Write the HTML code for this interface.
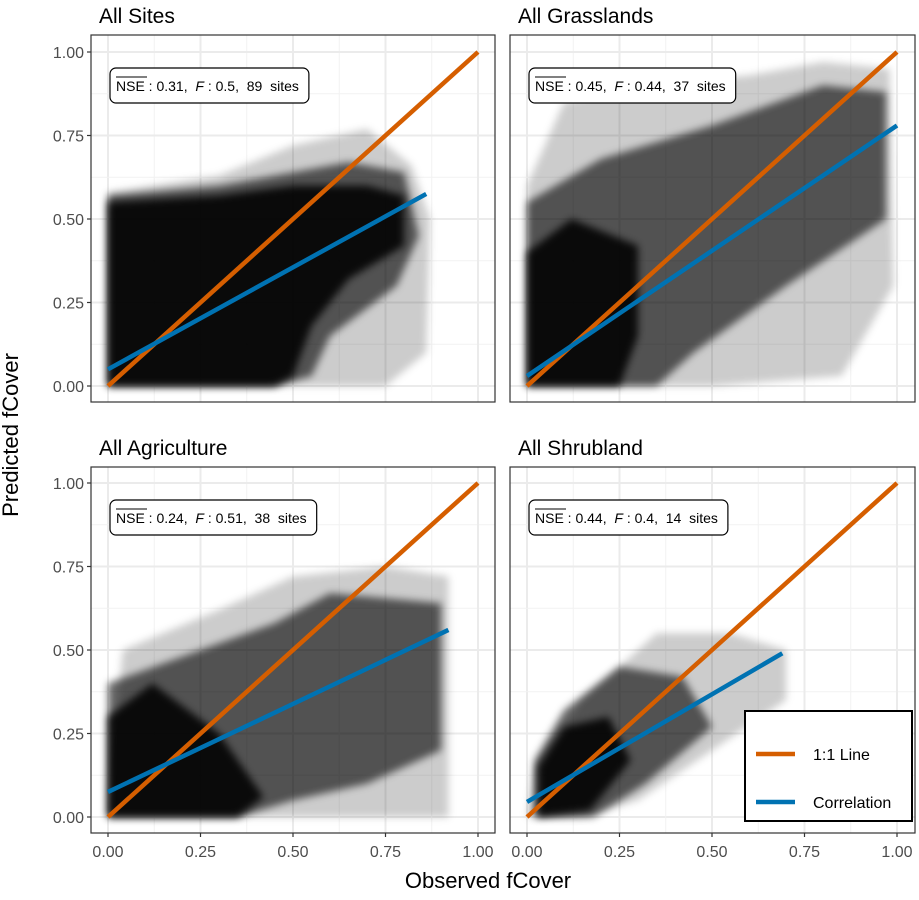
<!DOCTYPE html>
<html><head><meta charset="utf-8"><style>
body{margin:0;background:#fff;font-family:"Liberation Sans",sans-serif}
svg text{font-family:"Liberation Sans",sans-serif}
</style></head><body>
<svg id="c" width="919" height="895" viewBox="0 0 919 895" xmlns="http://www.w3.org/2000/svg">
<defs><filter id="blur" x="-10%" y="-10%" width="120%" height="120%"><feGaussianBlur stdDeviation="4"/></filter>
<filter id="blur2"><feGaussianBlur stdDeviation="2"/></filter></defs>
<text x="12" y="435" transform="rotate(-90 12 435)" text-anchor="middle" dominant-baseline="middle" font-size="22" fill="#000">Predicted fCover</text>
<text x="488" y="888" text-anchor="middle" font-size="22" fill="#000">Observed fCover</text>
</svg>
<script>
const titles=["All Sites","All Grasslands","All Agriculture","All Shrubland"];
const nseVals=["0.31","0.45","0.24","0.44"];
const fVals=["0.5","0.44","0.51","0.4"];
const siteCounts=[89,37,38,14];
const ticks=[0,0.25,0.5,0.75,1];
const tickLabels=["0.00","0.25","0.50","0.75","1.00"];
const corrStart=[0.05,0.03,0.075,0.045];
const corrEndX=[0.86,1.0,0.92,0.69];
const corrEndY=[0.575,0.78,0.56,0.49];
const halo=[
 [[0,0],[0,0.58],[0.3,0.63],[0.5,0.72],[0.7,0.77],[0.82,0.66],[0.87,0.5],[0.86,0.1],[0.75,0],[0,0]],
 [[0,0],[0,0.6],[0.1,0.85],[0.3,0.9],[0.6,0.93],[0.8,0.97],[0.98,0.95],[0.99,0.3],[0.85,0.03],[0.5,0]],
 [[0,0.05],[0.04,0.5],[0.3,0.62],[0.5,0.72],[0.75,0.75],[0.92,0.72],[0.92,0],[0,0]],
 [[0,0],[0.02,0.15],[0.15,0.35],[0.35,0.55],[0.55,0.55],[0.7,0.5],[0.7,0.35],[0.5,0.2],[0.3,0.05],[0.15,0]]];
const mid=[
 [[0,0],[0,0.57],[0.1,0.58],[0.3,0.6],[0.5,0.64],[0.65,0.67],[0.8,0.64],[0.84,0.45],[0.78,0.3],[0.6,0.15],[0.55,0.03],[0.45,0]],
 [[0,0],[0,0.55],[0.2,0.68],[0.5,0.78],[0.8,0.9],[0.97,0.88],[0.97,0.5],[0.7,0.3],[0.45,0.1],[0.35,0]],
 [[0,0],[0,0.4],[0.2,0.48],[0.45,0.58],[0.6,0.67],[0.9,0.64],[0.9,0.2],[0.7,0.1],[0.5,0.05],[0.35,0]],
 [[0.02,0],[0.02,0.17],[0.1,0.32],[0.25,0.45],[0.42,0.42],[0.5,0.27],[0.32,0.1],[0.18,0]]];
const core=[
 [[0,0],[0,0.55],[0.3,0.57],[0.5,0.6],[0.7,0.6],[0.8,0.57],[0.8,0.42],[0.65,0.32],[0.55,0.18],[0.5,0.03],[0.45,0]],
 [[0,0],[0,0.4],[0.12,0.5],[0.3,0.42],[0.3,0.15],[0.25,0]],
 [[0,0],[0,0.3],[0.12,0.4],[0.3,0.25],[0.42,0.06],[0.35,0]],
 [[0.03,0],[0.03,0.15],[0.1,0.27],[0.22,0.3],[0.28,0.17],[0.17,0.02]]];
const ns="http://www.w3.org/2000/svg";
const svg=document.getElementById('c');
function mk(t,a,p){const e=document.createElementNS(ns,t);for(const k in a)e.setAttribute(k,a[k]);(p||svg).appendChild(e);return e;}
const panels=[{l:91,r:495,t:35,b:402},{l:510,r:915,t:35,b:402},{l:91,r:495,t:467,b:833},{l:510,r:915,t:467,b:833}];
panels.forEach((P,i)=>{
 const x0=P.l+17,y0=P.b-16;
 const sx=v=>x0+v*370, sy=v=>y0-v*334;
 const g=mk('g',{});
 
 
 const tt=mk('text',{x:P.l+8,y:P.t-12,'font-size':21,fill:'#000'},g);tt.textContent=titles[i];
 
 
 mk('rect',{x:P.l,y:P.t,width:P.r-P.l,height:P.b-P.t,fill:'#fff'},g);
 for(let k=0;k<ticks.length;k++){
  const v=ticks[k];
  if(k<4){const m=v+0.125;
   mk('line',{x1:sx(m),x2:sx(m),y1:P.t,y2:P.b,stroke:'#f2f2f2','stroke-width':1},g);
   mk('line',{y1:sy(m),y2:sy(m),x1:P.l,x2:P.r,stroke:'#f2f2f2','stroke-width':1},g);}
  mk('line',{x1:sx(v),x2:sx(v),y1:P.t,y2:P.b,stroke:'#ebebeb','stroke-width':2},g);
  mk('line',{y1:sy(v),y2:sy(v),x1:P.l,x2:P.r,stroke:'#ebebeb','stroke-width':2},g);
 }
 const pts=a=>a.map(p=>sx(p[0])+','+sy(p[1])).join(' ');
 const c=mk('g',{},g);
 
 
 mk('polygon',{points:pts(halo[i]),fill:'#000','fill-opacity':0.2,filter:'url(#blur)'},c);
 mk('polygon',{points:pts(mid[i]),fill:'#000','fill-opacity':0.6,filter:'url(#blur)'},c);
 mk('polygon',{points:pts(core[i]),fill:'#000','fill-opacity':0.88,filter:'url(#blur)'},c);
 const ol=mk('line',{x1:sx(0),y1:sy(0),x2:sx(1),y2:sy(1),stroke:'#D55E00','stroke-width':4.5},g);
 
 
 const bl=mk('line',{x1:sx(0),y1:sy(corrStart[i]),x2:sx(corrEndX[i]),y2:sy(corrEndY[i]),stroke:'#0072B2','stroke-width':4.5},g);
 
 
 mk('rect',{x:P.l,y:P.t,width:P.r-P.l,height:P.b-P.t,fill:'none',stroke:'#333','stroke-width':1.2},g);
 const ag=mk('g',{},g);
 
 
 const at=mk('text',{x:x0+8,y:P.t+56,'font-size':14,fill:'#000'},ag);
 at.innerHTML='<tspan>NSE</tspan><tspan> : '+nseVals[i]+',  </tspan><tspan font-style="italic">F</tspan><tspan> : '+fVals[i]+',  '+siteCounts[i]+'  sites</tspan>';
 at.setAttribute('xml:space','preserve');
 at.style.whiteSpace='pre';
 const w=at.getComputedTextLength();
 mk('rect',{x:x0+2,y:P.t+33,width:w+16,height:35,rx:6,fill:'#fff',stroke:'#000','stroke-width':1.2},ag);
 ag.appendChild(at);
 mk('line',{x1:x0+8,x2:x0+8+31,y1:P.t+42,y2:P.t+42,stroke:'#000','stroke-width':1},ag);
 if(i%2===0){ticks.forEach((v,k)=>{
  mk('line',{x1:P.l-4,x2:P.l,y1:sy(v),y2:sy(v),stroke:'#333','stroke-width':1.2},svg);
  const t=mk('text',{x:P.l-7,y:sy(v)+6,'text-anchor':'end','font-size':16,fill:'#4d4d4d'},svg);t.textContent=tickLabels[k];
  
  
 });}
 if(i>=2){ticks.forEach((v,k)=>{
  mk('line',{x1:sx(v),x2:sx(v),y1:P.b,y2:P.b+4,stroke:'#333','stroke-width':1.2},svg);
  const t=mk('text',{x:sx(v),y:P.b+24,'text-anchor':'middle','font-size':16,fill:'#4d4d4d'},svg);t.textContent=tickLabels[k];
  
  
 });}
});
const lg=mk('g',{});


mk('rect',{x:745,y:711,width:167,height:110,fill:'#fff',stroke:'#000','stroke-width':2},lg);
mk('line',{x1:756,x2:795,y1:754,y2:754,stroke:'#D55E00','stroke-width':4.5},lg);
mk('line',{x1:756,x2:795,y1:802,y2:802,stroke:'#0072B2','stroke-width':4.5},lg);
const l1=mk('text',{x:813,y:760,'font-size':16,fill:'#000'},lg);l1.textContent='1:1 Line';


const l2=mk('text',{x:813,y:808,'font-size':16,fill:'#000'},lg);l2.textContent='Correlation';


</script>
</body></html>
